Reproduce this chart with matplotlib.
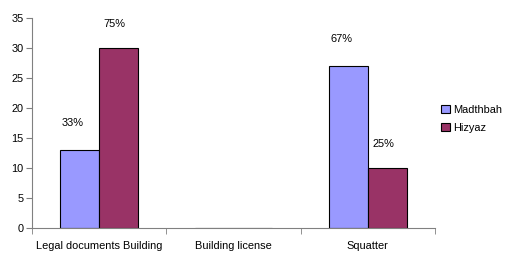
import matplotlib.pyplot as plt
import numpy as np

categories = ['Legal documents Building', 'Building license', 'Squatter']
madthbah = [13, 0, 27]
hizyaz = [30, 0, 10]
madthbah_labels = ['33%', None, '67%']
hizyaz_labels = ['75%', None, '25%']

plt.rcParams['font.family'] = ['Liberation Sans', 'DejaVu Sans']

fig = plt.figure(figsize=(5.05, 2.56), dpi=100)
ax = fig.add_axes([0.0634, 0.109, 0.798, 0.821])

x = np.arange(len(categories))
w = 0.29
ax.bar(x - w / 2, madthbah, w, color='#9999FF', edgecolor='black', linewidth=0.8, label='Madthbah')
ax.bar(x + w / 2, hizyaz, w, color='#993366', edgecolor='black', linewidth=0.8, label='Hizyaz')

for i in range(len(categories)):
    if madthbah_labels[i]:
        ax.text(x[i] - w / 2 - 0.05, madthbah[i] + 4.5, madthbah_labels[i], ha='center', va='center', fontsize=7.9)
    if hizyaz_labels[i]:
        ax.text(x[i] + w / 2 - 0.03, hizyaz[i] + 4.0, hizyaz_labels[i], ha='center', va='center', fontsize=7.9)

ax.set_xlim(-0.5, 2.5)
ax.set_ylim(0, 35)
ax.set_yticks(range(0, 36, 5))
ax.set_xticks(x)
ax.set_xticklabels(categories)
ax.set_xticks([-0.5, 0.5, 1.5, 2.5], minor=True)
ax.tick_params(axis='x', which='major', length=0, pad=9, labelsize=7.9)
ax.tick_params(axis='x', which='minor', length=4, color='#808080', direction='out')
ax.tick_params(axis='y', length=4, color='#808080', labelsize=7.9, pad=2)

for s in ['top', 'right']:
    ax.spines[s].set_visible(False)
for s in ['left', 'bottom']:
    ax.spines[s].set_color('#808080')

ax.legend(loc='center left', bbox_to_anchor=(0.99, 0.52), frameon=False, fontsize=7.9,
          handlelength=0.8, handleheight=0.8, handletextpad=0.3, labelspacing=0.7)

fig.savefig('out.png', dpi=100)
